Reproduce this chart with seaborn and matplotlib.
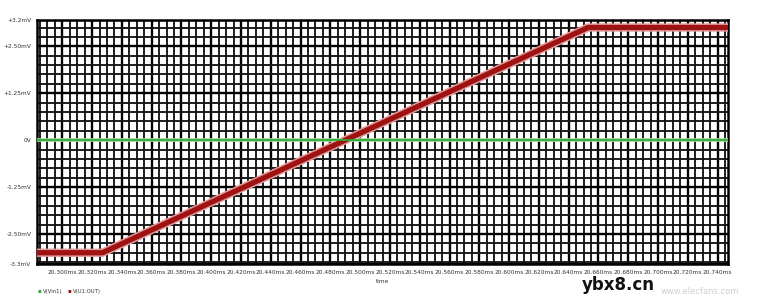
import numpy as np
import pandas as pd
import matplotlib
matplotlib.use("Agg")
import matplotlib.pyplot as plt
import seaborn as sns
from matplotlib.ticker import MultipleLocator

# ---- data ----
time_ms = [20.283, 20.327, 20.653, 20.747]
v_out_mV = [-3.0, -3.0, 3.0, 3.0]
time_in_ms = [20.283, 20.747]
v_in_mV = [0.0, 0.0]

x_ticks = [20.30 + 0.02 * i for i in range(23)]
x_tick_labels = ["20.%03dms" % round((t - 20.0) * 1000) for t in x_ticks]
y_ticks = [-3.3, -2.5, -1.25, 0.0, 1.25, 2.5, 3.2]
y_tick_labels = ["-3.3mV", "-2.50mV", "-1.25mV", "0V", "+1.25mV", "+2.50mV", "+3.2mV"]
legend_labels = ["V(Vin1)", "V(U1:OUT)"]

sns.set_theme(style="white")
plt.rcParams["font.family"] = ["DejaVu Sans"]

fig = plt.figure(figsize=(7.57, 3.02), dpi=100)
ax = fig.add_axes([37 / 757, 1 - 264 / 302, (728 - 37) / 757, (264 - 20) / 302])

# grid
ax.xaxis.set_minor_locator(MultipleLocator(0.005))
ax.yaxis.set_minor_locator(MultipleLocator(0.25))
ax.set_xticks(x_ticks)
ax.set_yticks(y_ticks)
ax.grid(which="minor", color="#151515", lw=1.35)
ax.grid(which="major", color="#000000", lw=1.7)
ax.set_axisbelow(True)

df_out = pd.DataFrame({"t": time_ms, "v": v_out_mV})
df_in = pd.DataFrame({"t": time_in_ms, "v": v_in_mV})
sns.lineplot(data=df_out, x="t", y="v", ax=ax, color="#e39a9a", lw=6.0, sort=False, zorder=3)
sns.lineplot(data=df_out, x="t", y="v", ax=ax, color="#9e1212", lw=3.8, sort=False, zorder=4)
sns.lineplot(data=df_in, x="t", y="v", ax=ax, color="#a8e2a8", lw=2.6, sort=False, zorder=3)
sns.lineplot(data=df_in, x="t", y="v", ax=ax, color="#32a832", lw=1.3, sort=False, zorder=4)

ax.set_xlim(20.283, 20.747)
ax.set_ylim(-3.3, 3.2)
ax.set_xticklabels(x_tick_labels, fontsize=4.2, color="#333333")
ax.set_yticklabels(y_tick_labels, fontsize=4.2, color="#333333")
ax.tick_params(axis="both", which="major", length=2, width=0.8, pad=2, color="#000000")
ax.tick_params(axis="both", which="minor", length=0)
ax.set_xlabel("time", fontsize=4.2, color="#333333", labelpad=3)
ax.set_ylabel("")
for s in ax.spines.values():
    s.set_color("#000000")
    s.set_linewidth(1.8)

# legend row under the axis
fig.text(38 / 757, 1 - 291 / 302, "\u25aa", color="#32a832", fontsize=4, va="center")
fig.text(43 / 757, 1 - 291 / 302, legend_labels[0], color="#333333", fontsize=3.8, va="center")
fig.text(68 / 757, 1 - 291 / 302, "\u25aa", color="#9e1212", fontsize=4, va="center")
fig.text(73 / 757, 1 - 291 / 302, legend_labels[1], color="#333333", fontsize=3.8, va="center")

# watermark
fig.text(582 / 757, 1 - 285 / 302, "ybx8.cn", fontsize=12, color="#111111", va="center", fontweight="bold")
fig.text(700 / 757, 1 - 292 / 302, "www.elecfans.com", fontsize=6, color="#cfcfcf", va="center", ha="center")

fig.savefig("out.png", dpi=100)
